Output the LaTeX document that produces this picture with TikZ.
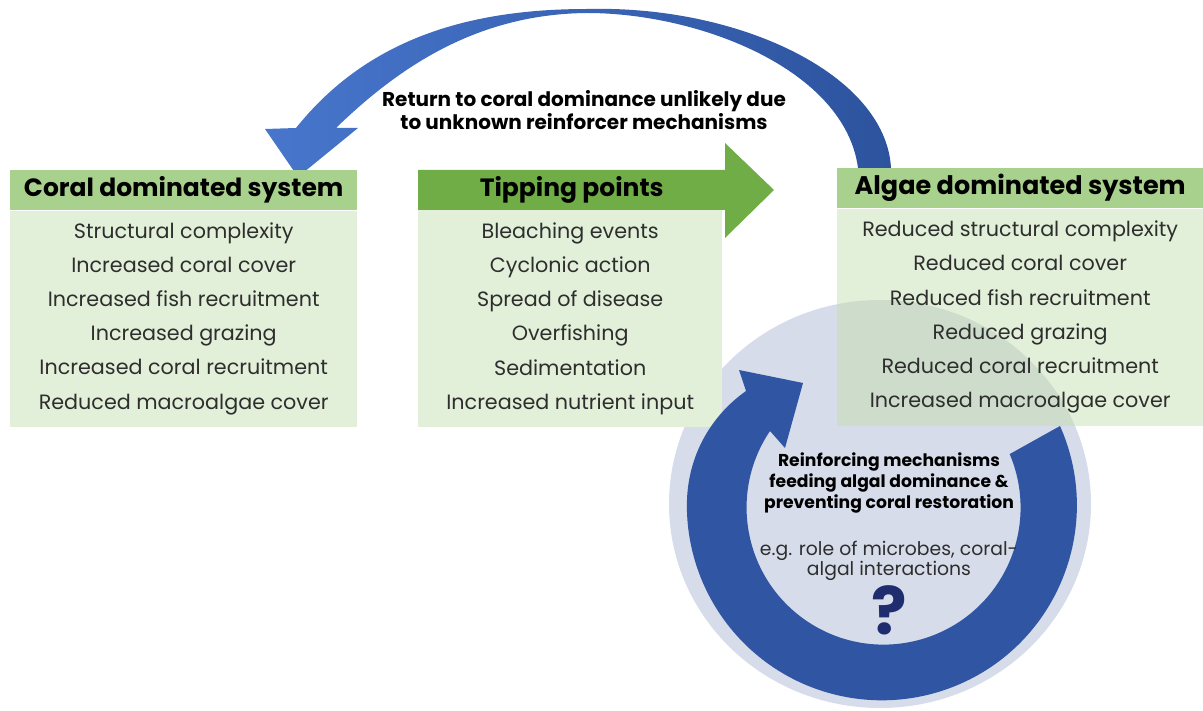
\documentclass[tikz,border=0pt]{standalone}
\usepackage{fontspec}
\setmainfont{Poppins}
\usetikzlibrary{positioning}
\definecolor{verdeos}{HTML}{70AD47}
\definecolor{verdemed}{HTML}{A9D18E}
\definecolor{verdecl}{HTML}{E2F0D9}
\definecolor{azulcl}{HTML}{D6DCE9}
\definecolor{azulmez}{HTML}{CEDDCB}
\definecolor{azulos}{HTML}{2F55A3}
\definecolor{azulizq}{HTML}{4776CC}
\definecolor{azulder}{HTML}{2D539E}
\definecolor{azulq}{HTML}{1F2C6E}
\definecolor{gristx}{HTML}{2E2E2E}
\begin{document}
\begin{tikzpicture}[x=1pt,y=-1pt,
  cabecera/.style={fill=verdemed, inner sep=0pt, minimum height=40, font=\fontsize{25}{28}\selectfont\bfseries},
  cuerpo/.style={fill=verdecl, inner sep=0pt, minimum height=216},
  lista/.style={align=center, text=gristx, font=\fontsize{20.7}{34.2}\selectfont},
  negrita/.style={align=center, font=\fontsize{17.2}{21}\selectfont\bfseries}]
  \useasboundingbox (0,0) rectangle (1203,711);
  \fill[azulcl] (880,504) ellipse[x radius=211, y radius=204]; % circulo de fondo
  % flecha superior
  \shade[left color=azulizq, right color=azulder]
    (296,128) .. controls (368,38) and (470,9) .. (587,9)
    .. controls (740,5) and (886,75) .. (891,168) -- (858,168)
    .. controls (845,70) and (700,13) .. (587,13)
    .. controls (480,14) and (402,64) .. (336,128)
    -- (358,128) -- (298,177) -- (265,129) -- cycle;
  \node[negrita, font=\fontsize{20}{23}\selectfont\bfseries] (retorno) at (584,110)
    {Return to coral dominance unlikely due\\to unknown reinforcer mechanisms};
  % sistema de coral
  \node[cabecera, minimum width=347, anchor=north west] (coralhd) at (10,170) {Coral dominated system};
  \node[cuerpo, minimum width=347, below=0pt of coralhd, lista] (coralbd)
    {Structural complexity\\Increased coral cover\\Increased fish recruitment\\Increased grazing\\Increased coral recruitment\\Reduced macroalgae cover};
  % puntos de inflexion
  \fill[verdeos] (418,170) -- (725,170) -- (725,143) -- (774,190) -- (725,238) -- (725,210) -- (418,210) -- cycle;
  \node[cabecera, fill=none, minimum width=307, anchor=north west] (tiphd) at (418,170) {Tipping points};
  \node[cuerpo, minimum width=304, minimum height=217, anchor=north west, lista] (tipbd) at (418,210)
    {Bleaching events\\Cyclonic action\\Spread of disease\\Overfishing\\Sedimentation\\Increased nutrient input};
  % sistema de algas
  \node[cabecera, minimum width=366, anchor=north west, font=\fontsize{25.5}{28}\selectfont\bfseries] (alghd) at (837,168) {Algae dominated system};
  \node[cuerpo, minimum width=366, minimum height=217, below=0pt of alghd] (algbd) {};
  \begin{scope}
    \clip (algbd.north west) rectangle (algbd.south east);
    \fill[azulmez] (880,504) ellipse[x radius=211, y radius=204];
  \end{scope}
  \node[lista] (algtx) at (algbd.center)
    {Reduced structural complexity\\Reduced coral cover\\Reduced fish recruitment\\Reduced grazing\\Reduced coral recruitment\\Increased macroalgae cover};
  % flecha circular
  \fill[azulos] (1060,426) arc[start angle=-24, end angle=180, radius=195]
    .. controls (687,455) and (712,415) .. (746,391) -- (739,370) -- (803,383)
    -- (785,448) -- (770,431) arc[start angle=214, end angle=-23, radius=137] -- cycle;
  \node[negrita] (refuerzo) at (889,483)
    {Reinforcing mechanisms\\feeding algal dominance \&\\preventing coral restoration};
  \node[align=center, text=gristx, font=\fontsize{18.8}{20}\selectfont, below=21pt of refuerzo] (ejemplo)
    {e.g. role of microbes, coral-\\algal interactions};
  \node[text=azulq, font=\fontsize{66}{66}\selectfont\bfseries, below=-2pt of ejemplo] (duda) {?};
\end{tikzpicture}
\end{document}
